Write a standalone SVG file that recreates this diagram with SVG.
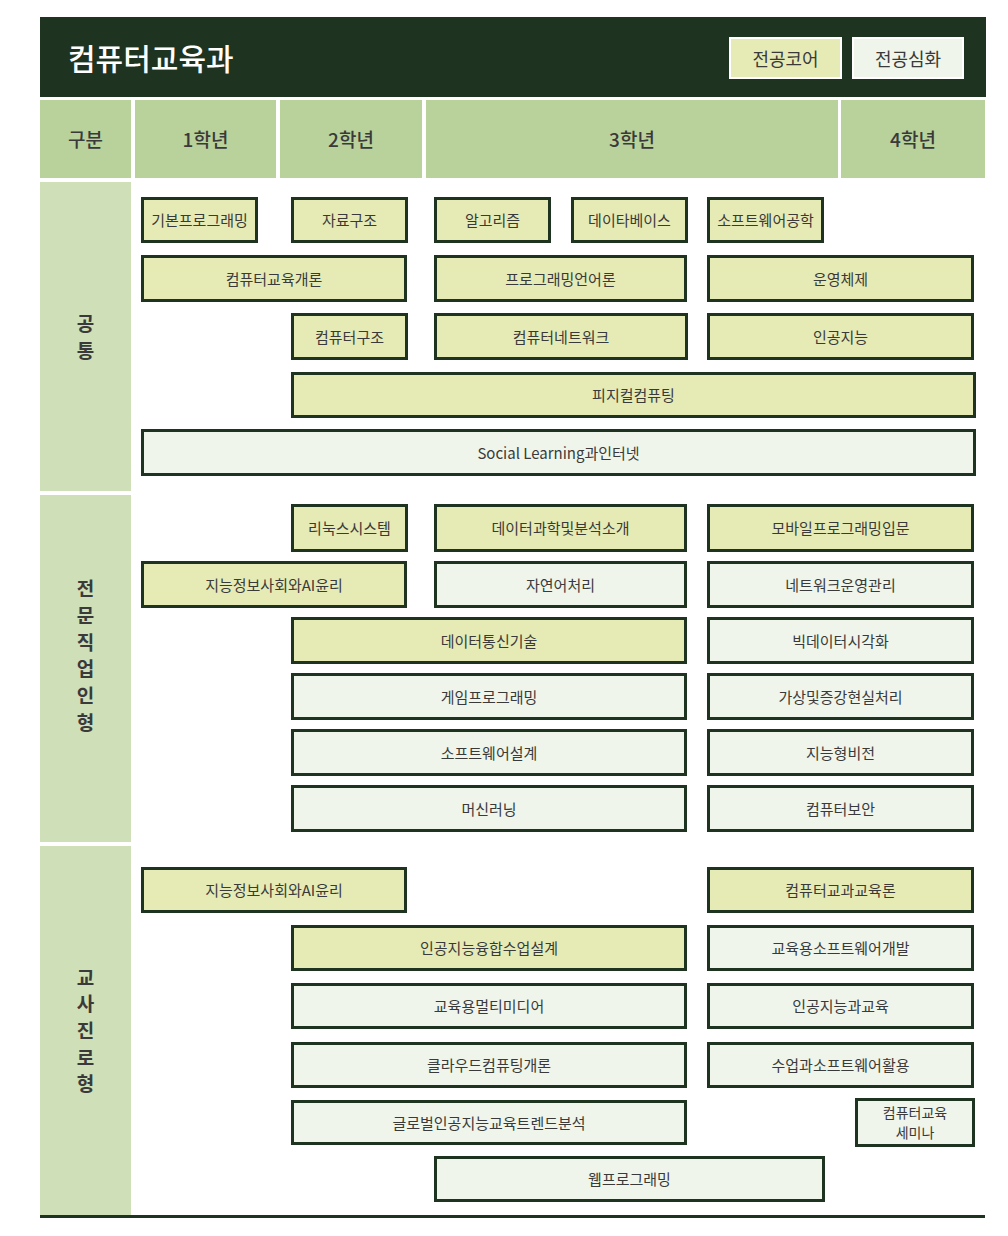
<svg xmlns="http://www.w3.org/2000/svg" width="1008" height="1236" viewBox="0 0 1008 1236">
<style>
text{font-family:"Noto Sans CJK KR","Noto Sans",sans-serif;fill:#3a3a3a;text-anchor:middle;dominant-baseline:central}
.core{fill:#e6ebb5;stroke:#1e3320;stroke-width:3}
.adv{fill:#eff5ea;stroke:#1e3320;stroke-width:3}
.t{font-size:15px}
.s{font-size:14px}
.hd{fill:#b9d29b}
.hdt{font-size:19px;font-weight:500}
.side{fill:#cfdfb8}
.sidet{font-size:19px;font-weight:700}
</style>
<rect width="1008" height="1236" fill="#ffffff"/>
<g id="title-bar">
<rect x="40" y="17" width="946" height="80" fill="#1e3320"/>
<text x="68" y="57" style="font-size:30px;font-weight:500;fill:#ffffff;text-anchor:start">컴퓨터교육과</text>
</g>
<g id="legend-core">
<rect x="730" y="38" width="111" height="40" fill="#e6ebb5" stroke="#ffffff" stroke-width="2"/>
<text x="785.5" y="57.5" style="font-size:18px">전공코어</text>
</g>
<g id="legend-adv">
<rect x="853" y="38" width="110" height="40" fill="#eff5ea" stroke="#ffffff" stroke-width="2"/>
<text x="908" y="57.5" style="font-size:18px">전공심화</text>
</g>
<g id="header-row">
<rect class="hd" x="40" y="100" width="91" height="78"/>
<text class="hdt" x="85.5" y="138">구분</text>
<rect class="hd" x="135" y="100" width="141" height="78"/>
<text class="hdt" x="205.5" y="138">1학년</text>
<rect class="hd" x="280" y="100" width="142" height="78"/>
<text class="hdt" x="351" y="138">2학년</text>
<rect class="hd" x="426" y="100" width="412" height="78"/>
<text class="hdt" x="632" y="138">3학년</text>
<rect class="hd" x="841" y="100" width="144" height="78"/>
<text class="hdt" x="913" y="138">4학년</text>
</g>
<g id="side-common">
<rect class="side" x="40" y="182" width="91" height="309"/>
<text class="sidet" x="85.5" y="322">공</text>
<text class="sidet" x="85.5" y="349">통</text>
</g>
<g id="side-professional">
<rect class="side" x="40" y="495" width="91" height="347"/>
<text class="sidet" x="85.5" y="587">전</text>
<text class="sidet" x="85.5" y="614">문</text>
<text class="sidet" x="85.5" y="641">직</text>
<text class="sidet" x="85.5" y="667">업</text>
<text class="sidet" x="85.5" y="694">인</text>
<text class="sidet" x="85.5" y="721">형</text>
</g>
<g id="side-teacher">
<rect class="side" x="40" y="846" width="91" height="369"/>
<text class="sidet" x="85.5" y="976">교</text>
<text class="sidet" x="85.5" y="1002">사</text>
<text class="sidet" x="85.5" y="1029">진</text>
<text class="sidet" x="85.5" y="1056">로</text>
<text class="sidet" x="85.5" y="1082">형</text>
</g>
<g id="connectors"></g>
<!-- 공통 -->
<g id="n-basic-programming"><rect class="core" x="142.5" y="198.5" width="114" height="43"/><text class="t" x="199.5" y="219.5">기본프로그래밍</text></g>
<g id="n-data-structure"><rect class="core" x="292.5" y="198.5" width="114" height="43"/><text class="t" x="349.5" y="219.5">자료구조</text></g>
<g id="n-algorithm"><rect class="core" x="435.5" y="198.5" width="114" height="43"/><text class="t" x="492.5" y="219.5">알고리즘</text></g>
<g id="n-database"><rect class="core" x="572.5" y="198.5" width="114" height="43"/><text class="t" x="629.5" y="219.5">데이타베이스</text></g>
<g id="n-software-eng"><rect class="core" x="708.5" y="198.5" width="114" height="43"/><text class="t" x="765.5" y="219.5">소프트웨어공학</text></g>
<g id="n-intro-cs-edu"><rect class="core" x="142.5" y="256.5" width="263" height="44"/><text class="t" x="274" y="278">컴퓨터교육개론</text></g>
<g id="n-prog-lang"><rect class="core" x="435.5" y="256.5" width="250" height="44"/><text class="t" x="560.5" y="278">프로그래밍언어론</text></g>
<g id="n-os"><rect class="core" x="708.5" y="256.5" width="264" height="44"/><text class="t" x="840.5" y="278">운영체제</text></g>
<g id="n-comp-arch"><rect class="core" x="292.5" y="314.5" width="114" height="44"/><text class="t" x="349.5" y="336">컴퓨터구조</text></g>
<g id="n-network"><rect class="core" x="435.5" y="314.5" width="251" height="44"/><text class="t" x="561" y="336">컴퓨터네트워크</text></g>
<g id="n-ai"><rect class="core" x="708.5" y="314.5" width="264" height="44"/><text class="t" x="840.5" y="336">인공지능</text></g>
<g id="n-physical"><rect class="core" x="292.5" y="373.5" width="682" height="43"/><text class="t" x="633.5" y="394.5">피지컬컴퓨팅</text></g>
<g id="n-social"><rect class="adv" x="142.5" y="430.5" width="832" height="44"/><text class="t" x="558.5" y="452">Social Learning과인터넷</text></g>
<!-- 전문직업인형 -->
<g id="n-linux"><rect class="core" x="292.5" y="505.5" width="114" height="45"/><text class="t" x="349.5" y="527.5">리눅스시스템</text></g>
<g id="n-data-science"><rect class="core" x="435.5" y="505.5" width="250" height="45"/><text class="t" x="560.5" y="527.5">데이터과학및분석소개</text></g>
<g id="n-mobile"><rect class="core" x="708.5" y="505.5" width="264" height="45"/><text class="t" x="840.5" y="527.5">모바일프로그래밍입문</text></g>
<g id="n-ai-ethics-1"><rect class="core" x="142.5" y="562.5" width="263" height="44"/><text class="t" x="274" y="584">지능정보사회와AI윤리</text></g>
<g id="n-nlp"><rect class="adv" x="435.5" y="562.5" width="250" height="44"/><text class="t" x="560.5" y="584">자연어처리</text></g>
<g id="n-net-ops"><rect class="adv" x="708.5" y="562.5" width="264" height="44"/><text class="t" x="840.5" y="584">네트워크운영관리</text></g>
<g id="n-data-comm"><rect class="core" x="292.5" y="618.5" width="393" height="44"/><text class="t" x="489" y="640">데이터통신기술</text></g>
<g id="n-bigdata-vis"><rect class="adv" x="708.5" y="618.5" width="264" height="44"/><text class="t" x="840.5" y="640">빅데이터시각화</text></g>
<g id="n-game"><rect class="adv" x="292.5" y="674.5" width="393" height="44"/><text class="t" x="489" y="696">게임프로그래밍</text></g>
<g id="n-vr-ar"><rect class="adv" x="708.5" y="674.5" width="264" height="44"/><text class="t" x="840.5" y="696">가상및증강현실처리</text></g>
<g id="n-sw-design"><rect class="adv" x="292.5" y="730.5" width="393" height="44"/><text class="t" x="489" y="752">소프트웨어설계</text></g>
<g id="n-vision"><rect class="adv" x="708.5" y="730.5" width="264" height="44"/><text class="t" x="840.5" y="752">지능형비전</text></g>
<g id="n-ml"><rect class="adv" x="292.5" y="786.5" width="393" height="44"/><text class="t" x="489" y="808">머신러닝</text></g>
<g id="n-security"><rect class="adv" x="708.5" y="786.5" width="264" height="44"/><text class="t" x="840.5" y="808">컴퓨터보안</text></g>
<!-- 교사진로형 -->
<g id="n-ai-ethics-2"><rect class="core" x="142.5" y="868.5" width="263" height="43"/><text class="t" x="274" y="889.5">지능정보사회와AI윤리</text></g>
<g id="n-cs-pedagogy"><rect class="core" x="708.5" y="868.5" width="264" height="43"/><text class="t" x="840.5" y="889.5">컴퓨터교과교육론</text></g>
<g id="n-ai-class-design"><rect class="core" x="292.5" y="926.5" width="393" height="43"/><text class="t" x="489" y="947.5">인공지능융합수업설계</text></g>
<g id="n-edu-sw-dev"><rect class="adv" x="708.5" y="926.5" width="264" height="43"/><text class="t" x="840.5" y="947.5">교육용소프트웨어개발</text></g>
<g id="n-edu-multimedia"><rect class="adv" x="292.5" y="984.5" width="393" height="43"/><text class="t" x="489" y="1005.5">교육용멀티미디어</text></g>
<g id="n-ai-edu"><rect class="adv" x="708.5" y="984.5" width="264" height="43"/><text class="t" x="840.5" y="1005.5">인공지능과교육</text></g>
<g id="n-cloud"><rect class="adv" x="292.5" y="1043.5" width="393" height="43"/><text class="t" x="489" y="1064.5">클라우드컴퓨팅개론</text></g>
<g id="n-class-sw"><rect class="adv" x="708.5" y="1043.5" width="264" height="43"/><text class="t" x="840.5" y="1064.5">수업과소프트웨어활용</text></g>
<g id="n-global-ai"><rect class="adv" x="292.5" y="1101.5" width="393" height="42"/><text class="t" x="489" y="1122">글로벌인공지능교육트렌드분석</text></g>
<g id="n-seminar"><rect class="adv" x="856.5" y="1099.5" width="117" height="46"/><text class="s" x="915" y="1112">컴퓨터교육</text><text class="s" x="915" y="1131.5">세미나</text></g>
<g id="n-web"><rect class="adv" x="435.5" y="1157.5" width="388" height="43"/><text class="t" x="629.5" y="1178.5">웹프로그래밍</text></g>
<g id="bottom-rule"><rect x="40" y="1215" width="945" height="3" fill="#1e3320"/></g>
</svg>
